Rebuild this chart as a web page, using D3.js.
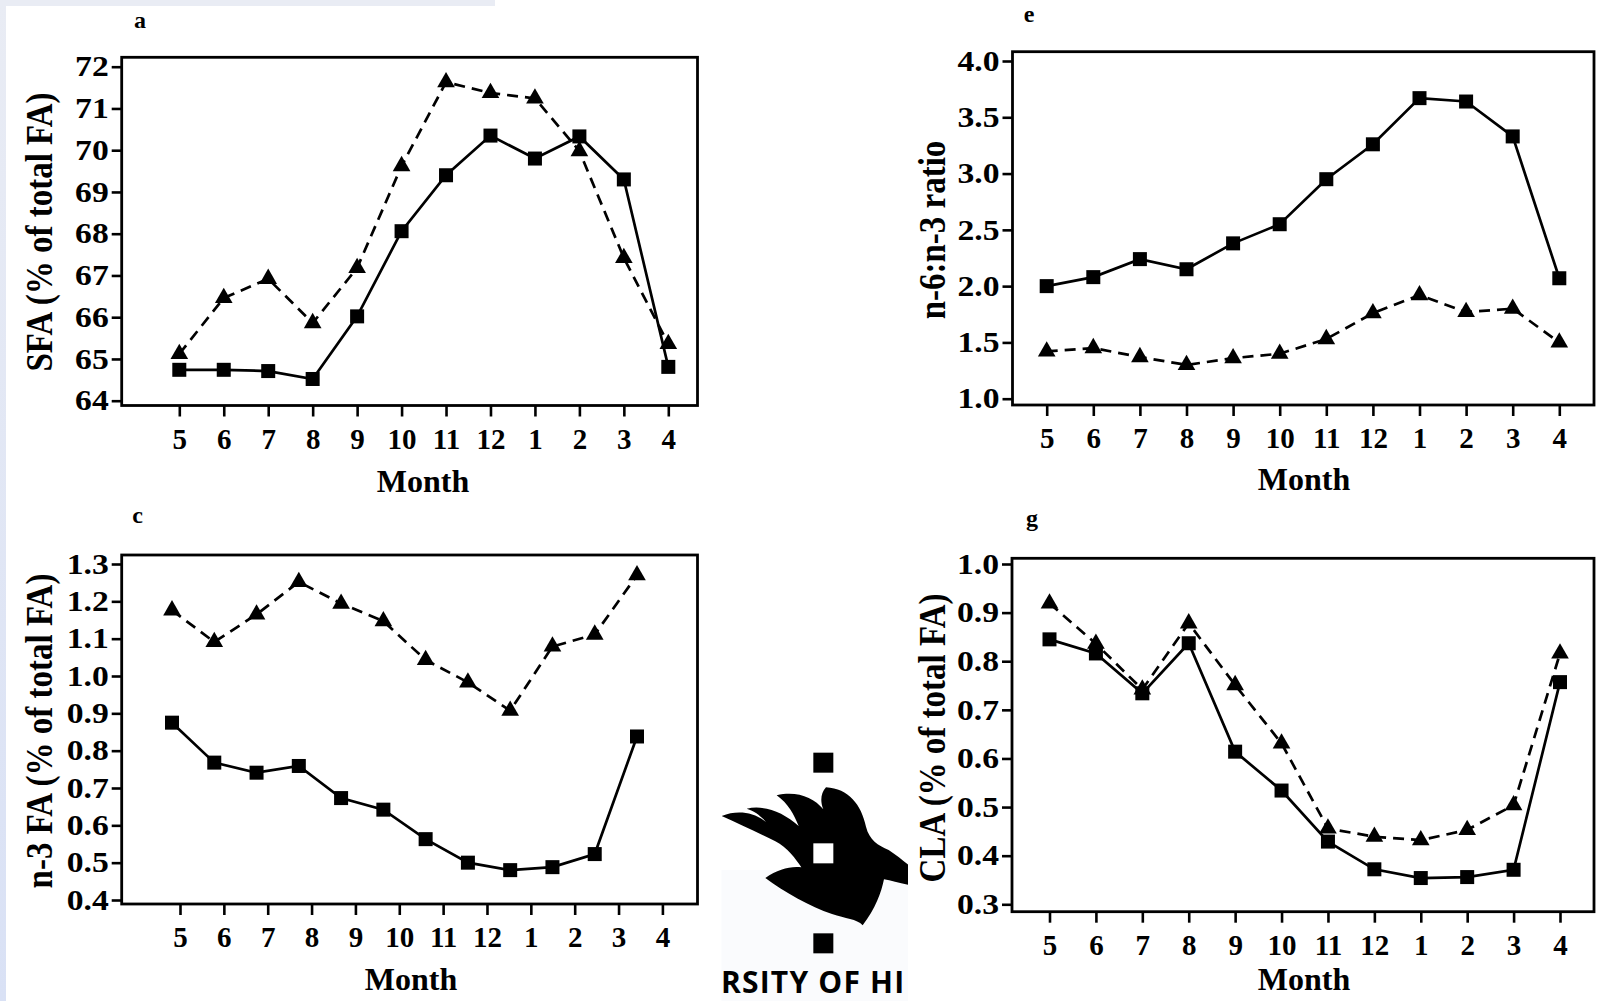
<!DOCTYPE html>
<html>
<head>
<meta charset="utf-8">
<script src="https://cdn.jsdelivr.net/npm/d3@7"></script>
<style>
  html, body { margin: 0; padding: 0; background: #ffffff; }
  svg { display: block; }
</style>
</head>
<body>
<svg id="fig" width="1617" height="1001"></svg>
<script>
// ---------- data ----------
const months = ["5", "6", "7", "8", "9", "10", "11", "12", "1", "2", "3", "4"];

// a: saturated fatty acids
const sfaTicks = [64, 65, 66, 67, 68, 69, 70, 71, 72];
const sfaSquare = [64.74, 64.74, 64.71, 64.52, 66.02, 68.06, 69.40, 70.35, 69.80, 70.33, 69.30, 64.81];
const sfaTriangle = [65.12, 66.46, 66.92, 65.86, 67.18, 69.62, 71.63, 71.37, 71.24, 69.98, 67.42, 65.36];

// e: n-6 : n-3 ratio
const ratioTicks = [1.0, 1.5, 2.0, 2.5, 3.0, 3.5, 4.0];
const ratioSquare = [2.00, 2.08, 2.24, 2.15, 2.38, 2.55, 2.95, 3.26, 3.67, 3.64, 3.33, 2.07];
const ratioTriangle = [1.42, 1.45, 1.37, 1.30, 1.36, 1.40, 1.53, 1.76, 1.92, 1.77, 1.80, 1.50];

// c: n-3 fatty acids
const n3Ticks = [0.4, 0.5, 0.6, 0.7, 0.8, 0.9, 1.0, 1.1, 1.2, 1.3];
const n3Square = [0.875, 0.768, 0.741, 0.759, 0.673, 0.642, 0.563, 0.500, 0.480, 0.488, 0.523, 0.838];
const n3Triangle = [1.176, 1.091, 1.165, 1.252, 1.194, 1.147, 1.043, 0.983, 0.907, 1.079, 1.111, 1.270];

// g: conjugated linoleic acid
const claTicks = [0.3, 0.4, 0.5, 0.6, 0.7, 0.8, 0.9, 1.0];
const claSquare = [0.845, 0.816, 0.734, 0.837, 0.614, 0.534, 0.429, 0.372, 0.354, 0.356, 0.371, 0.757];
const claTriangle = [0.919, 0.836, 0.742, 0.878, 0.751, 0.631, 0.456, 0.439, 0.432, 0.453, 0.504, 0.816];

// ---------- layout ----------
const SERIF = "'Liberation Serif', 'Times New Roman', serif";
const Y_TICK_STRETCH = 1.16;

const panels = [
  {
    letter: "a", yTitle: "SFA (% of total FA)",
    ticks: sfaTicks, square: sfaSquare, triangle: sfaTriangle, fmt: d3.format("d"),
    frame: { x0: 121.7, x1: 697.5, y0: 57.3, y1: 405.5 },
    xRange: [179.3, 668.3], dataRange: [179.3, 668.3],
    yPix: [400.7, 66.7],
    letterPos: [140, 28], titleX: 52, titleY: 232, monthPos: [423, 491.5]
  },
  {
    letter: "e", yTitle: "n-6:n-3 ratio",
    ticks: ratioTicks, square: ratioSquare, triangle: ratioTriangle, fmt: d3.format(".1f"),
    frame: { x0: 1012.5, x1: 1594, y0: 51.7, y1: 405 },
    xRange: [1046.7, 1559.3], dataRange: [1046.7, 1559.3],
    yPix: [398.7, 61],
    letterPos: [1029, 22], titleX: 945, titleY: 230, monthPos: [1304, 490]
  },
  {
    letter: "c", yTitle: "n-3 FA (% of total FA)",
    ticks: n3Ticks, square: n3Square, triangle: n3Triangle, fmt: d3.format(".1f"),
    frame: { x0: 121.7, x1: 697.5, y0: 555, y1: 904 },
    xRange: [180, 662.4], dataRange: [172, 637],
    yPix: [900, 564],
    letterPos: [137.5, 523], titleX: 52, titleY: 731, monthPos: [411, 990]
  },
  {
    letter: "g", yTitle: "CLA (% of total FA)",
    ticks: claTicks, square: claSquare, triangle: claTriangle, fmt: d3.format(".1f"),
    frame: { x0: 1012, x1: 1594, y0: 558.3, y1: 911.7 },
    xRange: [1049.5, 1560], dataRange: [1049.5, 1560],
    yPix: [904.3, 564],
    letterPos: [1032, 526], titleX: 945, titleY: 738, monthPos: [1304, 990]
  }
];

const svg = d3.select("#fig");

// page backdrop: faint lavender margins at the left and top edges
const defs = svg.append("defs");
const edge = defs.append("linearGradient").attr("id", "edgeGrad")
  .attr("x1", 0).attr("y1", 0).attr("x2", 0).attr("y2", 1);
edge.append("stop").attr("offset", "0%").attr("stop-color", "#e9ecf4");
edge.append("stop").attr("offset", "100%").attr("stop-color", "#d9e1f5");
svg.append("rect").attr("width", 1617).attr("height", 1001).attr("fill", "#ffffff");
svg.append("rect").attr("x", 0).attr("y", 0).attr("width", 6).attr("height", 1001).attr("fill", "url(#edgeGrad)");
svg.append("rect").attr("x", 0).attr("y", 0).attr("width", 495).attr("height", 6).attr("fill", "#e9ecf4");

panels.forEach(p => {
  const g = svg.append("g");
  const x = d3.scalePoint().domain(months).range(p.xRange);
  const xd = d3.scalePoint().domain(months).range(p.dataRange);
  const tMin = d3.min(p.ticks), tMax = d3.max(p.ticks);
  const y = d3.scaleLinear().domain([tMin, tMax]).range(p.yPix);
  const f = p.frame;

  // y axis ticks
  const yAxis = g.append("g").attr("transform", `translate(${f.x0},0)`)
    .call(d3.axisLeft(y).tickValues(p.ticks).tickFormat(p.fmt).tickSize(10).tickPadding(3));
  // x axis ticks
  const xAxis = g.append("g").attr("transform", `translate(0,${f.y1})`)
    .call(d3.axisBottom(x).tickSize(11).tickPadding(0));

  [yAxis, xAxis].forEach(ax => {
    ax.select(".domain").remove();
    ax.selectAll(".tick line").attr("stroke", "#000").attr("stroke-width", 2.6);
    ax.selectAll(".tick text")
      .attr("fill", "#000")
      .style("font-family", SERIF).style("font-weight", "bold").style("font-size", "29px");
  });
  xAxis.selectAll(".tick text").attr("y", 43).attr("dy", null);
  // the value labels on the vertical axes are set a little wider
  yAxis.selectAll(".tick text")
    .attr("x", -13 / Y_TICK_STRETCH)
    .attr("transform", `scale(${Y_TICK_STRETCH},1)`);

  // plot frame
  g.append("rect")
    .attr("x", f.x0).attr("y", f.y0)
    .attr("width", f.x1 - f.x0).attr("height", f.y1 - f.y0)
    .attr("fill", "none").attr("stroke", "#000").attr("stroke-width", 2.8);

  const line = d3.line().x((d, i) => xd(months[i])).y(d => y(d));

  // dashed series with triangles
  g.append("path").datum(p.triangle).attr("d", line)
    .attr("fill", "none").attr("stroke", "#000").attr("stroke-width", 2.7)
    .attr("stroke-dasharray", "11,7");
  // solid series with squares
  g.append("path").datum(p.square).attr("d", line)
    .attr("fill", "none").attr("stroke", "#000").attr("stroke-width", 2.7);

  const tri = d3.symbol().type(d3.symbolTriangle).size(135);
  g.selectAll(".tri").data(p.triangle).join("path").attr("class", "tri")
    .attr("transform", (d, i) => `translate(${xd(months[i])},${y(d)})`)
    .attr("d", tri).attr("fill", "#000");
  g.selectAll(".sq").data(p.square).join("rect").attr("class", "sq")
    .attr("x", (d, i) => xd(months[i]) - 7).attr("y", d => y(d) - 7)
    .attr("width", 14).attr("height", 14).attr("fill", "#000");

  // titles
  g.append("text").attr("x", p.letterPos[0]).attr("y", p.letterPos[1])
    .attr("text-anchor", "middle")
    .style("font-family", SERIF).style("font-weight", "bold").style("font-size", "24px")
    .text(p.letter);
  g.append("text").attr("x", p.monthPos[0]).attr("y", p.monthPos[1])
    .attr("text-anchor", "middle")
    .style("font-family", SERIF).style("font-weight", "bold").style("font-size", "32px")
    .text("Month");
  g.append("text")
    .attr("transform", `translate(${p.titleX},${p.titleY}) rotate(-90) scale(1,1.15)`)
    .attr("text-anchor", "middle")
    .style("font-family", SERIF).style("font-weight", "bold").style("font-size", "33px")
    .text(p.yTitle);
});

// university emblem between the lower panels
const logo = svg.append("g");
defs.append("clipPath").attr("id", "logoClip")
  .append("rect").attr("x", 700).attr("y", 730).attr("width", 208).attr("height", 271);
const lg = logo.append("g").attr("clip-path", "url(#logoClip)");
lg.append("rect").attr("x", 721.5).attr("y", 870).attr("width", 187).attr("height", 131).attr("fill", "#fafbfd");
const em = lg.append("g").attr("transform", "translate(700,730) scale(0.33333)");
// flame outline, traced clockwise from the leftmost tongue tip
const flame =
  "M65,258 " +
  "C112,240 160,246 198,276 " +     // upper edge of first tongue
  "C182,258 166,244 140,236 " +     // back under the second tongue to its tip
  "C192,224 250,246 296,288 " +     // upper edge of second tongue
  "C282,254 264,220 230,196 " +     // under the third tongue to its tip
  "C290,182 340,202 370,238 " +     // upper edge of third tongue
  "C360,214 362,190 378,172 " +     // up to the tall flame tip
  "C446,176 484,224 498,290 " +     // right side of the tall flame
  "C508,330 534,346 566,360 " +
  "C600,382 622,404 652,424 " +     // tongue running off to the right
  "L652,470 " +
  "C614,464 578,452 552,448 " +
  "C544,488 526,536 488,586 " +     // lower flame pointing down
  "C470,566 436,566 396,552 " +
  "C330,530 252,486 196,444 " +     // lower left tongue tip
  "C234,418 270,408 304,412 " +
  "C288,388 262,352 226,334 " +     // lower edge of the first tongue
  "C174,308 114,280 65,258 Z";
em.append("path").attr("d", flame).attr("fill", "#000");
em.append("rect").attr("x", 340).attr("y", 68).attr("width", 60).attr("height", 60).attr("fill", "#000");
em.append("rect").attr("x", 340).attr("y", 340).attr("width", 60).attr("height", 60).attr("fill", "#fff");
em.append("rect").attr("x", 340).attr("y", 610).attr("width", 60).attr("height", 60).attr("fill", "#000");
logo.append("text").attr("x", 721).attr("y", 993)
  .style("font-family", "'Open Sans', 'Noto Sans', sans-serif").style("font-weight", "bold")
  .style("font-size", "30px").style("letter-spacing", "1.2px")
  .text("RSITY OF HI");
</script>
</body>
</html>
